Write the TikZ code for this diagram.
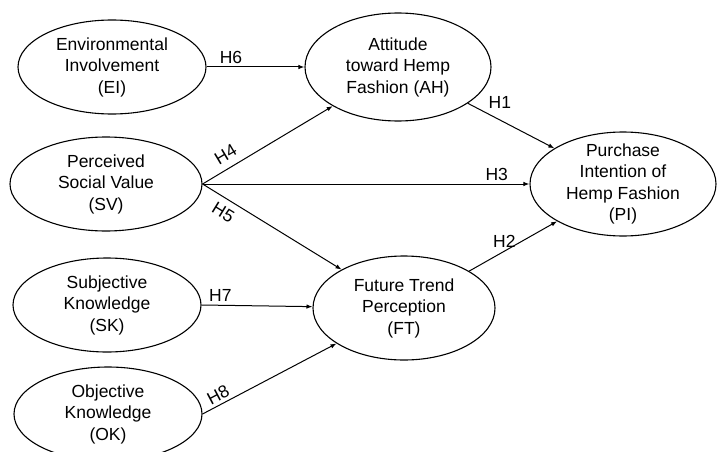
\documentclass[tikz,border=0pt]{standalone}
\usepackage{fontspec}
\setmainfont{Liberation Sans}
\usepackage{tikz}
\usetikzlibrary{shapes.geometric,arrows.meta}

\begin{document}
\begin{tikzpicture}[
            x=1pt, y=-1pt,
            font=\fontsize{17.5}{21.5}\selectfont,
            construct/.style={ellipse,draw,line width=1.1pt,align=center,
                inner sep=0pt, minimum width=#1, minimum height=94pt},
            construct/.default=188pt,
            path/.style={draw,line width=1pt,-{Latex[length=6pt,width=4.5pt]}},
            hyp/.style={inner sep=3pt}
        ]
        \useasboundingbox (0,0) rectangle (717,452);
        % constructs
        \node[construct] (EI) at (112, 67) {Environmental\\Involvement\\(EI)};
        \node[construct=192pt] (SV) at (106, 184) {Perceived\\Social Value\\(SV)};
        \node[construct] (SK) at (107, 305) {Subjective\\Knowledge\\(SK)};
        \node[construct] (OK) at (108, 414) {Objective\\Knowledge\\(OK)};
        \node[construct=186pt, minimum height=108pt] (AH) at (398, 67)
            {Attitude\\toward Hemp\\Fashion (AH)};
        \node[construct=182pt, minimum height=104pt] (FT) at (404, 308)
            {Future Trend\\Perception\\(FT)};
        \node[construct=186pt, minimum height=104pt, inner ysep=-5pt] (PI) at (623, 184)
            {Purchase\\Intention of\\Hemp Fashion\\(PI)};
        % paths
        \draw[path] (EI) -- node[hyp, above, pos=0.25] {H6} (AH);
        \draw[path] (SV.east) -- node[hyp, sloped, above=4pt, pos=0.23] {H4} (AH);
        \draw[path] (SV.east) -- node[hyp, above, pos=0.9] {H3} (PI);
        \draw[path] (SV.east) -- node[hyp, sloped, below=4pt, pos=0.2] {H5} (FT);
        \draw[path] (AH) -- node[hyp, above right, pos=0.2] {H1} (PI);
        \draw[path] (FT) -- node[hyp, above, pos=0.4] {H2} (PI);
        \draw[path] (SK.east) -- node[hyp, above, pos=0.17] {H7} (FT);
        \draw[path] (OK.east) -- node[hyp, sloped, above, pos=0.15] {H8} (FT);
    \end{tikzpicture}
\end{document}
